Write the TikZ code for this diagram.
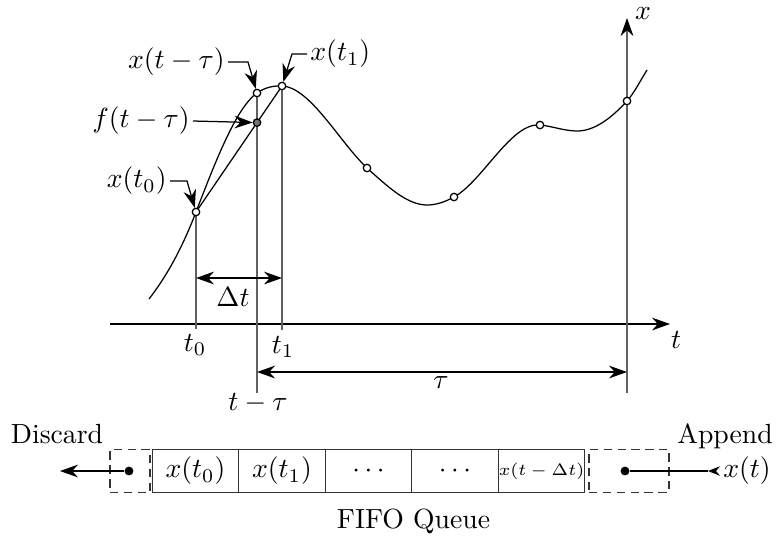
\documentclass[tikz,border=0pt]{standalone}
\usetikzlibrary{arrows.meta}
\begin{document}
\begin{tikzpicture}[x=0.361pt,y=-0.361pt,line width=0.45pt,
  arr/.style={-{Stealth[length=6.5pt,width=4.6pt]}},
  xarr/.style={-{Stealth[length=6.5pt,width=4.6pt,color=black]}},
  dbl/.style={{Stealth[length=6.5pt,width=4.6pt]}-{Stealth[length=6.5pt,width=4.6pt]}},
  smallarr/.style={-{Stealth[length=4.3pt,width=3.4pt]}},
  guide/.style={draw=black!62,line width=0.55pt},
  odot/.style={circle,draw,fill=white,inner sep=0pt,minimum size=2.7pt},
  gdot/.style={odot,fill=black!55},
  cell/.style={draw=black!80,minimum width=31.3pt,minimum height=15.5pt,inner sep=0pt},
  dcell/.style={draw=black!80,dash pattern=on 3pt off 2pt,minimum height=15.5pt,inner sep=0pt},
  qdot/.style={circle,fill,inner sep=0pt,minimum size=3.2pt},
  lbl/.style={inner sep=1pt}]
\useasboundingbox (0,0) rectangle (779,541);

% axes
\coordinate (tA0) at (110,324); \coordinate (tA1) at (670,324);
\coordinate (xA0) at (627,393); \coordinate (xA1) at (627,18);
\draw[arr] (tA0) -- (tA1);
\draw[guide,xarr] (xA0) -- (xA1);
\node (tlab) at (676,340) {$t$};
\node[inner sep=0pt] (xlab) at (643,14) {$x$};

% key points
\coordinate (c0) at (196,212);
\coordinate (cm) at (257,93);
\coordinate (c1) at (282,86);
\coordinate (cf) at (257,122.6);
\coordinate (q1) at (367,168);
\coordinate (q2) at (454,197);
\coordinate (q3) at (540,125);
\coordinate (q4) at (627,101);
\coordinate (b0) at (196,329);
\coordinate (bm) at (257,393);
\coordinate (b1) at (282,330);

\draw[guide] (c0) -- (b0);
\draw[guide] (cm) -- (bm);
\draw[guide] (c1) -- (b1);
\draw (c0) -- (c1);

% curve
\draw (149,299) .. controls (164.7,278.6) and (180.3,252.8) .. (c0)
  .. controls (216.3,159.1) and (236.7,107.2) .. (cm)
  .. controls (265.3,87.2) and (273.7,85.6) .. (c1)
  .. controls (310.3,87.4) and (338.7,141) .. (q1)
  .. controls (387,186) and (407,205) .. (427,205)
  .. controls (436,205) and (445,201.95) .. (q2)
  .. controls (482.7,181.2) and (511.3,122.1) .. (q3)
  .. controls (552.3,126.2) and (564.7,131) .. (577,131)
  .. controls (593.7,131) and (610.3,119.3) .. (q4)
  .. controls (633.7,93.7) and (640.3,80.7) .. (647,70);

% dots
\node[odot] (p0) at (c0) {};
\node[odot] (pm) at (cm) {};
\node[odot] (p1) at (c1) {};
\node[gdot] (pf) at (cf) {};
\node[odot] (pq1) at (q1) {};
\node[odot] (pq2) at (q2) {};
\node[odot] (pq3) at (q3) {};
\node[odot] (pq4) at (q4) {};

% callouts
\node[anchor=east,lbl] (lxm) at (228,62) {$x(t-\tau)$};
\draw[arr] (lxm.east) -- ++(20,0) -- (pm);
\node[anchor=west,lbl] (lx1) at (307,54) {$x(t_1)$};
\draw[arr] (lx1.west) -- ++(-15,0) -- (p1);
\node[anchor=east,lbl] (lf) at (193,121) {$f(t-\tau)$};
\draw[arr] (lf.east) -- (pf);
\node[anchor=east,lbl] (lx0) at (170,181) {$x(t_0)$};
\draw[arr] (lx0.east) -- ++(17,0) -- (p0);

% dimensions
\coordinate (d0) at (196,278); \coordinate (d1) at (282,278);
\draw[dbl] (d0) -- (d1);
\node (dlab) at (233,297) {$\Delta t$};
\coordinate (e0) at (257,372); \coordinate (e1) at (627,372);
\draw[dbl] (e0) -- (e1);
\node (taulab) at (441,383) {$\tau$};

% axis tick labels
\node (t0lab) at (195,345) {$t_0$};
\node (t1lab) at (283,347) {$t_1$};
\node (tmlab) at (258,403) {$t-\tau$};

% queue
\node[dcell,minimum width=14.4pt] (dl) at (130,471) {};
\node[dcell,minimum width=28.9pt] (dr) at (629,471) {};
\node[cell] (k1) at (195.5,471) {$x(t_0)$};
\node[cell] (k2) at (282,471) {$x(t_1)$};
\node[cell] (k3) at (368.5,471) {$\cdots$};
\node[cell] (k4) at (455,471) {$\cdots$};
\node[cell] (k5) at (541.5,471) {\fontsize{6.3}{7}\selectfont$x(t-\Delta t)$};
\node[qdot] (ql) at (129,471) {};
\node[qdot] (qr) at (625,471) {};
\coordinate (dis) at (60,471);
\draw[arr] (ql) -- (dis);
\node (xt) at (747,471) {$x(t)$};
\coordinate (xtip) at (708,471);
\draw (qr) -- (xtip);
\draw[smallarr] (xt.west) -- (xtip);
\node[anchor=base] (disc) at (57,443) {Discard};
\node[anchor=base] (app) at (725,443) {Append};
\node[anchor=base] (fifo) at (413.5,528) {FIFO Queue};
\end{tikzpicture}
\end{document}
